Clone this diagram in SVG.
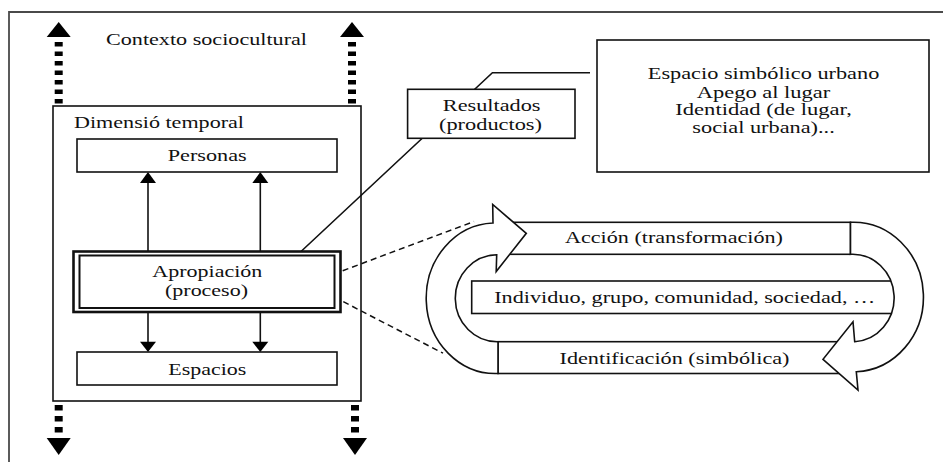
<svg xmlns="http://www.w3.org/2000/svg" width="943" height="462" viewBox="0 0 943 462">
<style>
  .bx { fill: #fff; stroke: #111; stroke-width: 1.6; }
  .ln { fill: none; stroke: #111; stroke-width: 1.6; }
  .dash { fill: none; stroke: #111; stroke-width: 1.5; stroke-dasharray: 6 4; }
  .vdash { fill: none; stroke: #000; stroke-width: 8; }
  .head { fill: #000; stroke: none; }
  .band { fill: #fff; stroke: #111; stroke-width: 1.6; stroke-linejoin: miter; }
  text { font-family: "Liberation Serif", "Times New Roman", serif; font-size: 17px; fill: #111; }
</style>

<rect x="0" y="0" width="943" height="462" fill="#fff"/>

<g id="frame">
  <path d="M 9 462 L 9 12 L 943 12" fill="none" stroke="#4a4a4a" stroke-width="1.8"/>
  <text x="106" y="45" textLength="201" lengthAdjust="spacingAndGlyphs">Contexto sociocultural</text>
</g>

<g id="connectors">
  <!-- dashed vertical context arrows -->
  <line class="vdash" x1="58.7" y1="42" x2="58.7" y2="104" stroke-dasharray="4.5 5"/>
  <polygon class="head" points="46.7,37 70.7,37 58.7,22"/>
  <line class="vdash" x1="352" y1="42" x2="352" y2="104" stroke-dasharray="4.5 5"/>
  <polygon class="head" points="340,37 364,37 352,22"/>
  <line class="vdash" x1="58.7" y1="405" x2="58.7" y2="434" stroke-dasharray="5.5 5.5"/>
  <polygon class="head" points="46.7,438 70.7,438 58.7,455"/>
  <line class="vdash" x1="355" y1="405" x2="355" y2="434" stroke-dasharray="5.5 5.5"/>
  <polygon class="head" points="343,438 367,438 355,455"/>

  <!-- Apropiacion -> Personas -->
  <line class="ln" x1="148" y1="251.5" x2="148" y2="180"/>
  <polygon class="head" points="140,183 156,183 148,172"/>
  <line class="ln" x1="260.3" y1="251.5" x2="260.3" y2="180"/>
  <polygon class="head" points="252.3,183 268.3,183 260.3,172"/>

  <!-- Apropiacion -> Espacios -->
  <line class="ln" x1="148" y1="312.5" x2="148" y2="344"/>
  <polygon class="head" points="140,341.7 156,341.7 148,352"/>
  <line class="ln" x1="260.3" y1="312.5" x2="260.3" y2="344"/>
  <polygon class="head" points="252.3,341.7 268.3,341.7 260.3,352"/>

  <!-- Apropiacion -> Resultados -> outcomes box -->
  <path class="ln" d="M 301 251.5 L 492.4 72.7 L 590 72.7"/>

  <!-- dashed zoom lines to the cycle -->
  <line class="dash" x1="342.7" y1="270.7" x2="474" y2="221.5"/>
  <line class="dash" x1="343.3" y1="301.7" x2="443" y2="353.2"/>
</g>

<g id="dimension-temporal">
  <rect x="53" y="106" width="308" height="295" fill="none" stroke="#111" stroke-width="1.6"/>
  <text x="74" y="128" textLength="170" lengthAdjust="spacingAndGlyphs">Dimensió temporal</text>
</g>

<g id="personas">
  <rect class="bx" x="77" y="139" width="260" height="33"/>
  <text x="167.7" y="161" textLength="79" lengthAdjust="spacingAndGlyphs">Personas</text>
</g>

<g id="apropiacion">
  <rect x="73.5" y="251.5" width="267" height="60.5" fill="#fff" stroke="#111" stroke-width="2.6"/>
  <rect x="79.5" y="255.5" width="255" height="52.5" fill="none" stroke="#111" stroke-width="2"/>
  <text x="152.3" y="277.3" textLength="110" lengthAdjust="spacingAndGlyphs">Apropiación</text>
  <text x="165" y="296" textLength="83" lengthAdjust="spacingAndGlyphs">(proceso)</text>
</g>

<g id="espacios">
  <rect class="bx" x="77" y="352" width="260" height="33"/>
  <text x="168.3" y="374.5" textLength="78" lengthAdjust="spacingAndGlyphs">Espacios</text>
</g>

<g id="resultados">
  <rect class="bx" x="407.6" y="89.3" width="167.4" height="49"/>
  <text x="442.8" y="111" textLength="97.7" lengthAdjust="spacingAndGlyphs">Resultados</text>
  <text x="439" y="129.5" textLength="103" lengthAdjust="spacingAndGlyphs">(productos)</text>
</g>

<g id="productos">
  <rect class="bx" x="597" y="40" width="332" height="132"/>
  <text x="647.8" y="79.3" textLength="231.5" lengthAdjust="spacingAndGlyphs">Espacio simbólico urbano</text>
  <text x="696.7" y="97.7" textLength="133.6" lengthAdjust="spacingAndGlyphs">Apego al lugar</text>
  <text x="675.3" y="115" textLength="176.5" lengthAdjust="spacingAndGlyphs">Identidad (de lugar,</text>
  <text x="692.3" y="132.5" textLength="142.5" lengthAdjust="spacingAndGlyphs">social urbana)...</text>
</g>

<g id="individuo">
  <rect class="bx" x="471.7" y="281" width="428" height="32.5"/>
  <text x="494.2" y="302.7" textLength="381" lengthAdjust="spacingAndGlyphs">Individuo, grupo, comunidad, sociedad, …</text>
</g>

<g id="identificacion">
  <rect class="bx" x="498" y="341.7" width="352" height="31.8"/>
  <text x="559.5" y="364" textLength="230" lengthAdjust="spacingAndGlyphs">Identificación (simbólica)</text>
</g>

<g id="accion">
  <rect class="bx" x="505" y="222.3" width="345.5" height="32"/>
  <text x="565" y="243.3" textLength="218" lengthAdjust="spacingAndGlyphs">Acción (transformación)</text>
</g>

<g id="cycle-arrows">
  <path class="band" d="M 498 373.5 A 69 75 0 0 1 493 223 L 492.7 204.5 L 526.3 233.3 L 496.2 271.5 L 496.7 254.8 A 42 43.4 0 0 0 498 341.7 Z"/>
  <path class="band" d="M 850.5 222.3 A 70 74.7 0 0 1 856.3 371.7 L 858 390 L 823 359.3 L 853 321.7 L 854.7 341.7 A 41.5 43.7 0 0 0 850.5 254.3 Z"/>
</g>
</svg>
